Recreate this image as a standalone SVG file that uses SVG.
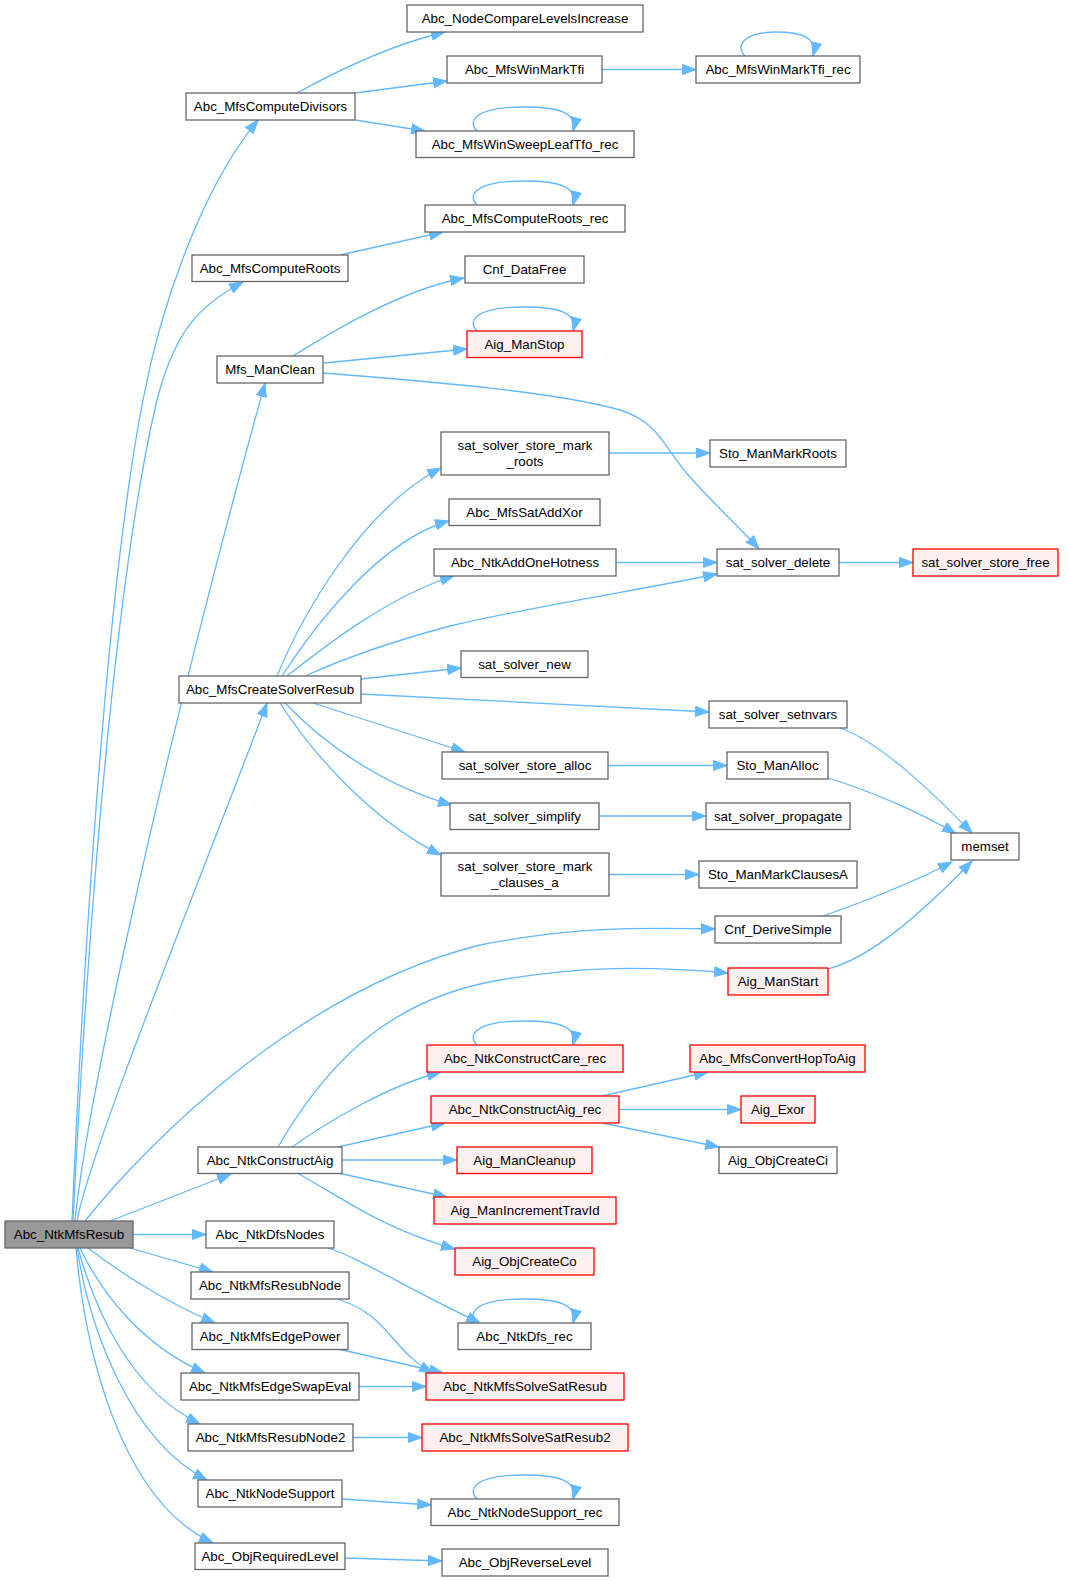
<svg xmlns="http://www.w3.org/2000/svg" width="1068" height="1581" viewBox="0 0 1068 1581">
<style>
.node rect{fill:#ffffff;stroke:#666666;stroke-width:1.3}
.node.red rect{fill:#fff0f0;stroke:#ff0000}
.node.main rect{fill:#999999;stroke:#666666}
text{font-family:"Liberation Sans",Arial,Helvetica,sans-serif;font-size:13.33px;text-anchor:middle;fill:#000000}
#edges path{fill:none;stroke:#63b8ff;stroke-width:1.3;marker-end:url(#arr)}
</style>
<defs>
<marker id="arr" markerUnits="userSpaceOnUse" markerWidth="16" markerHeight="12" refX="14" refY="5.5" orient="auto">
<path d="M0.5,0.5 L14,5.5 L0.5,10.5 Z" fill="#63b8ff" stroke="#63b8ff" stroke-width="1"/>
</marker>
</defs>
<rect width="1068" height="1581" fill="#ffffff"/>
<g id="edges">
<path d="M72,1221 C78,1080 100,620 143,400 C160,310 200,190 258,120"/>
<path d="M73,1221 C80,1080 105,620 157,400 C175,330 200,305 243,282"/>
<path d="M75,1221 C85,1120 150,800 265,383"/>
<path d="M77,1221 C90,1150 200,880 267,703"/>
<path d="M85,1221 C150,1140 300,990 480,945 C580,925 650,928 715,929"/>
<path d="M110,1221 L231,1174"/>
<path d="M133,1234.5 L206,1234.5"/>
<path d="M130,1248 L213,1272"/>
<path d="M88,1248 C110,1265 160,1300 215,1323"/>
<path d="M80,1248 C100,1290 140,1345 205,1373"/>
<path d="M78,1248 C95,1310 130,1390 200,1424"/>
<path d="M77,1248 C90,1330 130,1440 207,1480"/>
<path d="M76,1248 C85,1350 120,1500 213,1543"/>
<path d="M297,93 C335,72 390,45 445,32"/>
<path d="M355,93 L447,81"/>
<path d="M355,120 L425,131"/>
<path d="M602,69.5 L696,69.5"/>
<path d="M745,56 C735,46 743,32 777,32 C800,32 818,37 813,56"/>
<path d="M477,131 C467,121 475,107 525,107 C557,107 578,112 573,131"/>
<path d="M340,255 L443,232"/>
<path d="M477,205 C467,195 475,181 525,181 C557,181 578,186 573,205"/>
<path d="M293,356 C330,333 400,290 464,278"/>
<path d="M324,363 L467,349"/>
<path d="M477,331 C467,321 475,307 525,307 C557,307 578,312 573,331"/>
<path d="M323,373 C450,383 560,393 620,410 C660,422 665,450 690,477 C710,500 740,528 759,549"/>
<path d="M277,676 C300,620 360,510 441,468"/>
<path d="M282,676 C315,625 380,540 449,521"/>
<path d="M287,676 C320,650 390,595 454,576"/>
<path d="M305,676 C345,658 390,642 450,626 C540,605 640,590 717,574"/>
<path d="M361,679 L461,668"/>
<path d="M361,694 L709,712"/>
<path d="M313,703 L465,752"/>
<path d="M285,703 C320,740 380,785 452,805"/>
<path d="M280,703 C310,750 370,820 441,855"/>
<path d="M609,453 L710,453"/>
<path d="M616,562.5 L717,562.5"/>
<path d="M839,562.5 L913,562.5"/>
<path d="M840,728 C880,742 930,790 972,833"/>
<path d="M828,778 C870,791 920,812 956,834"/>
<path d="M608,765.5 L727,765.5"/>
<path d="M599,816 L706,816"/>
<path d="M609,874.5 L699,874.5"/>
<path d="M823,916 C860,903 910,884 952,862"/>
<path d="M828,969 C870,958 920,915 972,861"/>
<path d="M278,1147 C320,1075 380,1000 500,980 C580,966 650,966 728,973"/>
<path d="M292,1147 C330,1120 390,1085 441,1072"/>
<path d="M477,1045 C467,1035 475,1021 525,1021 C557,1021 578,1026 573,1045"/>
<path d="M338,1147 L445,1123"/>
<path d="M342,1160 L457,1160"/>
<path d="M338,1173 L447,1197"/>
<path d="M297,1173 C340,1196 380,1228 455,1249"/>
<path d="M602,1096 L708,1072"/>
<path d="M619,1109.5 L741,1109.5"/>
<path d="M602,1123 L719,1147"/>
<path d="M328,1248 C360,1258 400,1285 480,1323"/>
<path d="M477,1323 C467,1313 475,1299 525,1299 C557,1299 578,1304 573,1323"/>
<path d="M337,1299 C390,1315 390,1350 433,1373"/>
<path d="M338,1349 L443,1373"/>
<path d="M359,1386.5 L426,1386.5"/>
<path d="M353,1437.5 L422,1437.5"/>
<path d="M342,1499 L431,1505"/>
<path d="M477,1499 C467,1489 475,1475 525,1475 C557,1475 578,1480 573,1499"/>
<path d="M345,1558 L442,1561"/>
</g>
<g id="node1" class="node main"><rect x="5" y="1221" width="128" height="27"/><text x="69" y="1239">Abc_NtkMfsResub</text></g>
<g id="node2" class="node"><rect x="186" y="93" width="169" height="27"/><text x="270.5" y="111">Abc_MfsComputeDivisors</text></g>
<g id="node3" class="node"><rect x="407" y="5" width="236" height="27"/><text x="525" y="23">Abc_NodeCompareLevelsIncrease</text></g>
<g id="node4" class="node"><rect x="447" y="56" width="155" height="27"/><text x="524.5" y="74">Abc_MfsWinMarkTfi</text></g>
<g id="node5" class="node"><rect x="696" y="56" width="164" height="27"/><text x="778" y="74">Abc_MfsWinMarkTfi_rec</text></g>
<g id="node6" class="node"><rect x="416" y="131" width="218" height="26.5"/><text x="525" y="149">Abc_MfsWinSweepLeafTfo_rec</text></g>
<g id="node7" class="node"><rect x="425" y="205" width="200" height="27"/><text x="525" y="223">Abc_MfsComputeRoots_rec</text></g>
<g id="node8" class="node"><rect x="192" y="255" width="156" height="26.5"/><text x="270" y="273">Abc_MfsComputeRoots</text></g>
<g id="node9" class="node"><rect x="465" y="256" width="119" height="27"/><text x="524.5" y="274">Cnf_DataFree</text></g>
<g id="node10" class="node red"><rect x="467" y="331" width="115" height="26.5"/><text x="524.5" y="349">Aig_ManStop</text></g>
<g id="node11" class="node"><rect x="217" y="356" width="106" height="27"/><text x="270" y="374">Mfs_ManClean</text></g>
<g id="node12" class="node"><rect x="441" y="432" width="168" height="43"/><text x="525" y="450">sat_solver_store_mark</text><text x="525" y="466">_roots</text></g>
<g id="node13" class="node"><rect x="710" y="440" width="136" height="27"/><text x="778" y="458">Sto_ManMarkRoots</text></g>
<g id="node14" class="node"><rect x="449" y="499" width="151" height="26.5"/><text x="524.5" y="517">Abc_MfsSatAddXor</text></g>
<g id="node15" class="node"><rect x="434" y="549" width="182" height="27"/><text x="525" y="567">Abc_NtkAddOneHotness</text></g>
<g id="node16" class="node"><rect x="717" y="549" width="122" height="27"/><text x="778" y="567">sat_solver_delete</text></g>
<g id="node17" class="node red"><rect x="913" y="549" width="145" height="27"/><text x="985.5" y="567">sat_solver_store_free</text></g>
<g id="node18" class="node"><rect x="461" y="651" width="127" height="26.5"/><text x="524.5" y="669">sat_solver_new</text></g>
<g id="node19" class="node"><rect x="179" y="676" width="182" height="27"/><text x="270" y="694">Abc_MfsCreateSolverResub</text></g>
<g id="node20" class="node"><rect x="709" y="701" width="138" height="27"/><text x="778" y="719">sat_solver_setnvars</text></g>
<g id="node21" class="node"><rect x="442" y="752" width="166" height="27"/><text x="525" y="770">sat_solver_store_alloc</text></g>
<g id="node22" class="node"><rect x="727" y="752" width="101" height="27"/><text x="777.5" y="770">Sto_ManAlloc</text></g>
<g id="node23" class="node"><rect x="450" y="803" width="149" height="26.5"/><text x="524.5" y="821">sat_solver_simplify</text></g>
<g id="node24" class="node"><rect x="706" y="803" width="144" height="26.5"/><text x="778" y="821">sat_solver_propagate</text></g>
<g id="node25" class="node"><rect x="951" y="833" width="68" height="27"/><text x="985" y="851">memset</text></g>
<g id="node26" class="node"><rect x="441" y="853" width="168" height="43"/><text x="525" y="871">sat_solver_store_mark</text><text x="525" y="887">_clauses_a</text></g>
<g id="node27" class="node"><rect x="699" y="861" width="158" height="27"/><text x="778" y="879">Sto_ManMarkClausesA</text></g>
<g id="node28" class="node"><rect x="715" y="916" width="126" height="27"/><text x="778" y="934">Cnf_DeriveSimple</text></g>
<g id="node29" class="node red"><rect x="728" y="968" width="100" height="27"/><text x="778" y="986">Aig_ManStart</text></g>
<g id="node30" class="node red"><rect x="427" y="1045" width="196" height="27"/><text x="525" y="1063">Abc_NtkConstructCare_rec</text></g>
<g id="node31" class="node red"><rect x="690" y="1045" width="175" height="27"/><text x="777.5" y="1063">Abc_MfsConvertHopToAig</text></g>
<g id="node32" class="node red"><rect x="431" y="1096" width="188" height="27"/><text x="525" y="1114">Abc_NtkConstructAig_rec</text></g>
<g id="node33" class="node red"><rect x="741" y="1096" width="74" height="27"/><text x="778" y="1114">Aig_Exor</text></g>
<g id="node34" class="node"><rect x="198" y="1147" width="144" height="26.5"/><text x="270" y="1165">Abc_NtkConstructAig</text></g>
<g id="node35" class="node red"><rect x="457" y="1147" width="135" height="26.5"/><text x="524.5" y="1165">Aig_ManCleanup</text></g>
<g id="node36" class="node"><rect x="719" y="1147" width="118" height="26.5"/><text x="778" y="1165">Aig_ObjCreateCi</text></g>
<g id="node37" class="node red"><rect x="434" y="1197" width="182" height="27"/><text x="525" y="1215">Aig_ManIncrementTravId</text></g>
<g id="node38" class="node"><rect x="206" y="1221" width="128" height="27"/><text x="270" y="1239">Abc_NtkDfsNodes</text></g>
<g id="node39" class="node red"><rect x="455" y="1248" width="139" height="27"/><text x="524.5" y="1266">Aig_ObjCreateCo</text></g>
<g id="node40" class="node"><rect x="191" y="1272" width="158" height="27"/><text x="270" y="1290">Abc_NtkMfsResubNode</text></g>
<g id="node41" class="node"><rect x="458" y="1323" width="133" height="26.5"/><text x="524.5" y="1341">Abc_NtkDfs_rec</text></g>
<g id="node42" class="node"><rect x="192" y="1323" width="156" height="26.5"/><text x="270" y="1341">Abc_NtkMfsEdgePower</text></g>
<g id="node43" class="node red"><rect x="426" y="1373" width="198" height="27"/><text x="525" y="1391">Abc_NtkMfsSolveSatResub</text></g>
<g id="node44" class="node"><rect x="181" y="1373" width="178" height="27"/><text x="270" y="1391">Abc_NtkMfsEdgeSwapEval</text></g>
<g id="node45" class="node"><rect x="188" y="1424" width="165" height="27"/><text x="270.5" y="1442">Abc_NtkMfsResubNode2</text></g>
<g id="node46" class="node red"><rect x="422" y="1424" width="206" height="27"/><text x="525" y="1442">Abc_NtkMfsSolveSatResub2</text></g>
<g id="node47" class="node"><rect x="198" y="1480" width="144" height="27"/><text x="270" y="1498">Abc_NtkNodeSupport</text></g>
<g id="node48" class="node"><rect x="431" y="1499" width="188" height="26.5"/><text x="525" y="1517">Abc_NtkNodeSupport_rec</text></g>
<g id="node49" class="node"><rect x="195" y="1543" width="150" height="26.5"/><text x="270" y="1561">Abc_ObjRequiredLevel</text></g>
<g id="node50" class="node"><rect x="442" y="1549" width="166" height="27"/><text x="525" y="1567">Abc_ObjReverseLevel</text></g>
</svg>
